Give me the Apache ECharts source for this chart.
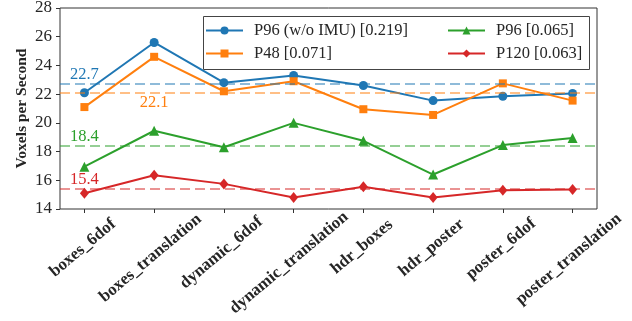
<!DOCTYPE html>
<html>
<head>
<meta charset="utf-8">
<script src="https://cdn.jsdelivr.net/npm/echarts@6/dist/echarts.min.js"></script>
<style>
html,body{margin:0;padding:0;background:#fff;}
#chart{width:632px;height:321px;}
</style>
</head>
<body>
<div id="chart"></div>
<script>
const categories = ['boxes_6dof','boxes_translation','dynamic_6dof','dynamic_translation','hdr_boxes','hdr_poster','poster_6dof','poster_translation'];
const p96NoImu = [22.1, 25.6, 22.8, 23.3, 22.6, 21.55, 21.85, 22.05];
const p48      = [21.1, 24.6, 22.2, 22.9, 20.95, 20.55, 22.75, 21.55];
const p96      = [16.95, 19.45, 18.3, 20.0, 18.75, 16.4, 18.45, 18.95];
const p120     = [15.1, 16.35, 15.75, 14.8, 15.55, 14.8, 15.3, 15.35];
const seriesNames = ['P96 (w/o IMU) [0.219]', 'P48 [0.071]', 'P96 [0.065]', 'P120 [0.063]'];
const meanValues = [22.7, 22.1, 18.4, 15.4];
const meanLabelCategory = [0, 1, 0, 0];
const yTicks = [14, 16, 18, 20, 22, 24, 26, 28];

const colors = ['#1f77b4', '#ff7f0e', '#2ca02c', '#d62728'];
const symbols = ['circle', 'rect', 'triangle', 'diamond'];
const symbolSizes = [9, 8, 10, [9, 11]];
const meanLabelOffsets = [[0, -9], [0, 10], [0, -9], [0, -9]];
const serif = '"Liberation Serif", "DejaVu Serif", serif';
const textColor = '#262626';
const fs = 16.5;

// x label layout (mimic centered rotated labels)
const labelFs = 16.9;
const rot = 40 * Math.PI / 180;
const cv = document.createElement('canvas').getContext('2d');
cv.font = 'bold ' + labelFs + 'px ' + serif;
const rich = {};
categories.forEach((c, i) => {
  const L = cv.measureText(c).width;
  const h = labelFs;
  const dx = (L * Math.cos(rot) - h * Math.sin(rot)) / 2 + 1 + 0.045 * L;
  const a = dx * Math.cos(rot);
  const b = dx * Math.sin(rot);
  rich['r' + i] = {
    fontFamily: serif, fontWeight: 'bold', fontSize: labelFs, color: textColor,
    lineHeight: h,
    padding: [Math.max(0, b), Math.max(0, L - 2 * a), 0, 0]
  };
});

const allSeries = [p96NoImu, p48, p96, p120];
const series = allSeries.map((vals, k) => ({
  name: seriesNames[k],
  type: 'line',
  data: vals.map((v, i) => [i, v]),
  symbol: symbols[k],
  symbolSize: symbolSizes[k],
  showSymbol: true,
  lineStyle: { color: colors[k], width: 2 },
  itemStyle: { color: colors[k] },
  color: colors[k],
  z: 2,
  markLine: {
    silent: true,
    symbol: 'none',
    label: { show: false },
    lineStyle: { color: colors[k], type: [10, 5], width: 2, opacity: 0.5 },
    data: [{ yAxis: meanValues[k] }]
  },
  markPoint: {
    silent: true,
    symbol: 'circle',
    symbolSize: 0,
    data: [{ coord: [meanLabelCategory[k], meanValues[k]], value: meanValues[k] }],
    label: {
      show: true,
      formatter: () => meanValues[k].toFixed(1),
      color: colors[k],
      fontFamily: serif,
      fontSize: fs,
      offset: meanLabelOffsets[k]
    }
  }
}));

const chart = echarts.init(document.getElementById('chart'), null, { renderer: 'canvas' });
chart.setOption({
  animation: false,
  backgroundColor: '#fff',
  grid: {
    left: 60, right: 35, top: 8, bottom: 112,
    containLabel: false,
    outerBoundsMode: 'none',
    show: true, borderColor: '#333', borderWidth: 1, backgroundColor: 'transparent'
  },
  xAxis: {
    type: 'value',
    min: -0.35, max: 7.35,
    axisLine: { show: false, onZero: false },
    splitLine: { show: false },
    axisTick: { show: true, customValues: categories.map((c, i) => i), length: 4, inside: false, lineStyle: { color: '#333' } },
    axisLabel: {
      customValues: categories.map((c, i) => i),
      rotate: 40,
      align: 'center',
      verticalAlign: 'top',
      margin: 14,
      hideOverlap: false,
      formatter: (v) => '{r' + v + '|' + categories[v] + '}',
      rich: rich
    }
  },
  yAxis: {
    type: 'value',
    min: yTicks[0], max: yTicks[yTicks.length - 1], interval: 2,
    name: 'Voxels per Second',
    nameLocation: 'middle',
    nameGap: 30,
    nameMoveOverlap: false,
    nameTextStyle: { fontFamily: serif, fontWeight: 'bold', fontSize: 15.5, color: textColor },
    axisLine: { show: false, onZero: false },
    splitLine: { show: false },
    axisTick: { show: true, length: 4, inside: false, lineStyle: { color: '#333' } },
    axisLabel: { fontFamily: serif, fontSize: 17, color: textColor, margin: 8 }
  },
  legend: [
    {
      data: [seriesNames[0], seriesNames[1]],
      orient: 'vertical', left: 200, top: 17,
      itemWidth: 37, itemHeight: 10, itemGap: 6,
      textStyle: { fontFamily: serif, fontSize: fs, color: textColor, padding: [0, 0, 0, 6] },
      selectedMode: false
    },
    {
      data: [seriesNames[2], seriesNames[3]],
      orient: 'vertical', left: 442, top: 17,
      itemWidth: 37, itemHeight: 10, itemGap: 6,
      textStyle: { fontFamily: serif, fontSize: fs, color: textColor, padding: [0, 0, 0, 6] },
      selectedMode: false
    }
  ],
  graphic: [{
    type: 'rect',
    shape: { x: 203.5, y: 16.5, width: 386, height: 53 },
    style: { fill: 'rgba(255,255,255,0.85)', stroke: '#444', lineWidth: 1 },
    z: 3
  }],
  series: series
});
</script>
</body>
</html>
